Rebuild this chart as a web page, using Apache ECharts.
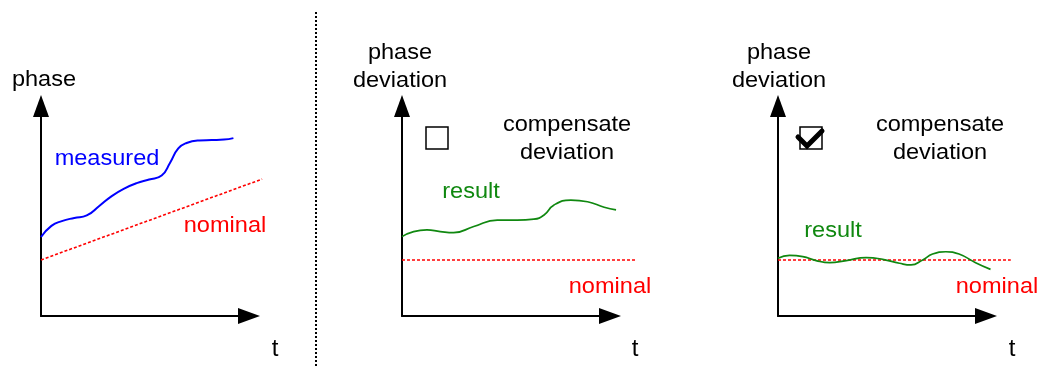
<!DOCTYPE html>
<html>
<head>
<meta charset="utf-8">
<script src="https://cdn.jsdelivr.net/npm/echarts@6/dist/echarts.min.js"></script>
<style>
  html, body { margin: 0; padding: 0; background: #fff; }
  #chart { width: 1047px; height: 367px; }
</style>
</head>
<body>
<div id="chart"></div>
<script>
// Panel 1: absolute phase over time
const measuredPhase = [[0, 3.76], [0.5, 4.29], [1.0, 4.52], [1.6, 4.67], [2.2, 4.79], [2.8, 5.24], [3.4, 5.71],
  [4.0, 6.07], [4.6, 6.33], [5.2, 6.5], [5.8, 6.69], [6.2, 7.29], [6.6, 7.98], [7.0, 8.24], [7.6, 8.36],
  [8.2, 8.38], [8.8, 8.4], [9.25, 8.47]];
const nominalPhase = [[0, 2.67], [10.63, 6.52]];

// Panel 2: deviation without compensation
const resultUncompensated = [[0, 3.78], [0.56, 4.02], [1.2, 4.1], [1.84, 4.02], [2.48, 3.97], [3.45, 4.26],
  [4.58, 4.57], [5.54, 4.57], [6.34, 4.61], [6.83, 4.81], [7.31, 5.29], [8.12, 5.52], [8.92, 5.44],
  [9.72, 5.18], [10.29, 5.05]];
const nominalDeviation2 = [[0, 2.67], [11.26, 2.67]];

// Panel 3: deviation with compensation enabled
const resultCompensated = [[0, 2.75], [0.56, 2.89], [1.2, 2.83], [1.84, 2.64], [2.5, 2.54], [3.3, 2.64],
  [4.26, 2.78], [5.06, 2.7], [5.87, 2.51], [6.43, 2.43], [6.99, 2.67], [7.47, 2.95], [8.11, 3.06],
  [8.75, 2.95], [9.55, 2.54], [10.27, 2.22]];
const nominalDeviation3 = [[0, 2.67], [11.25, 2.67]];

const axisTitles = [['phase'], ['phase', 'deviation'], ['phase', 'deviation']];
const optionText = ['compensate', 'deviation'];

const FONT = '"Liberation Sans", Arial, sans-serif';
const panelLeft = [41, 402, 778];
const GRID_TOP = 106, GRID_BOTTOM = 316, GRID_W = 208;
const T_MAX = 10;          // t range covered by the drawn axis arrows
const T_PLOT_MAX = 13;     // curves may run a little past the arrow

const chart = echarts.init(document.getElementById('chart'), null, { renderer: 'canvas' });

// Grids 0-2 carry the visible axes; grids 3-5 use the same scale but are wider,
// so curves that run past the arrow tip are not cut off at the axis end.
const axisGrids = panelLeft.map(l => ({ left: l, top: GRID_TOP, width: GRID_W, height: GRID_BOTTOM - GRID_TOP }));
const plotGrids = panelLeft.map(l => ({ left: l, top: GRID_TOP, width: GRID_W * T_PLOT_MAX / T_MAX, height: GRID_BOTTOM - GRID_TOP }));

const axisLine = {
  show: true, onZero: false,
  symbol: ['none', 'triangle'], symbolSize: [16, 22],
  lineStyle: { color: '#000', width: 2 }
};
const hidden = { axisTick: { show: false }, axisLabel: { show: false }, splitLine: { show: false } };

const xAxes = [
  ...panelLeft.map((_, i) => Object.assign({ type: 'value', gridIndex: i, min: 0, max: T_MAX, axisLine }, hidden)),
  ...panelLeft.map((_, i) => Object.assign({ type: 'value', gridIndex: 3 + i, min: 0, max: T_PLOT_MAX, axisLine: { show: false } }, hidden))
];
const yAxes = [
  ...panelLeft.map((_, i) => Object.assign({ type: 'value', gridIndex: i, min: 0, max: 10, axisLine }, hidden)),
  ...panelLeft.map((_, i) => Object.assign({ type: 'value', gridIndex: 3 + i, min: 0, max: 10, axisLine: { show: false } }, hidden))
];

function curve(data, panel, color, width, dashed) {
  return {
    type: 'line', data, xAxisIndex: 3 + panel, yAxisIndex: 3 + panel,
    showSymbol: false, smooth: dashed ? false : 0.5, clip: false, silent: true,
    lineStyle: { color, width, type: dashed ? [3, 2] : 'solid' }
  };
}

function label(text, x, y, color, size, scale) {
  return {
    type: 'text', x, y, scaleX: scale || 1.07, silent: true,
    style: { text, fill: color || '#000', font: (size || 22) + 'px ' + FONT, align: 'center', verticalAlign: 'middle' }
  };
}

const graphics = [
  // separator between panels
  { type: 'line', silent: true, shape: { x1: 316, y1: 12, x2: 316, y2: 367 },
    style: { stroke: '#000', lineWidth: 2, lineDash: [2, 2] } },
  // axis titles
  label(axisTitles[0][0], 44, 80),
  label(axisTitles[1][0], 400, 53), label(axisTitles[1][1], 400, 81),
  label(axisTitles[2][0], 779, 53), label(axisTitles[2][1], 779, 81),
  label('t', 275, 349, '#000', 24, 1), label('t', 635, 349, '#000', 24, 1), label('t', 1012, 349, '#000', 24, 1),
  // option text
  label(optionText[0], 567, 125), label(optionText[1], 567, 153),
  label(optionText[0], 940, 125), label(optionText[1], 940, 153),
  // checkboxes
  { type: 'rect', silent: true, shape: { x: 426, y: 127, width: 22, height: 22 },
    style: { fill: 'none', stroke: '#000', lineWidth: 1.5 } },
  { type: 'rect', silent: true, shape: { x: 800, y: 127, width: 22, height: 22 },
    style: { fill: 'none', stroke: '#000', lineWidth: 1.5 } },
  { type: 'polyline', silent: true, shape: { points: [[798, 137], [807, 146], [822, 131]] },
    style: { stroke: '#000', lineWidth: 5, fill: 'none', lineJoin: 'miter', lineCap: 'round' } },
  // series labels
  label('measured', 107, 159, '#0000ff'),
  label('nominal', 225, 226, '#ff0000'),
  label('result', 471, 192, '#108810'),
  label('nominal', 610, 287, '#ff0000'),
  label('result', 833, 231, '#108810'),
  label('nominal', 997, 287, '#ff0000')
];

chart.setOption({
  animation: false,
  backgroundColor: '#fff',
  grid: [...axisGrids, ...plotGrids],
  xAxis: xAxes,
  yAxis: yAxes,
  series: [
    curve(nominalPhase, 0, '#ff0000', 1.6, true),
    curve(measuredPhase, 0, '#0000ff', 2, false),
    curve(nominalDeviation2, 1, '#ff0000', 1.6, true),
    curve(resultUncompensated, 1, '#108810', 1.7, false),
    curve(nominalDeviation3, 2, '#ff0000', 1.6, true),
    curve(resultCompensated, 2, '#108810', 1.7, false)
  ],
  graphic: graphics
});
</script>
</body>
</html>
